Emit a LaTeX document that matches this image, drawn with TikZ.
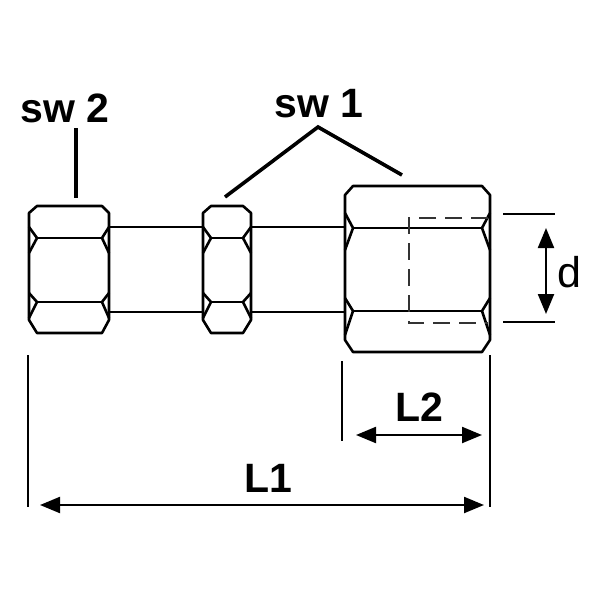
\documentclass[tikz,border=0pt]{standalone}
\usepackage{fontspec}
\setmainfont{Liberation Sans}
\usetikzlibrary{positioning,arrows.meta}
\tikzset{
    outline/.style={line width=2.6pt, black, line join=round},
    thin line/.style={line width=2pt, black},
    hidden line/.style={line width=1.7pt, black!80, dash pattern=on 17pt off 9pt},
    leader/.style={line width=3.6pt, black},
    dim arrow/.style={line width=2.2pt, black, {Triangle[length=20pt,width=16pt]}-{Triangle[length=20pt,width=16pt]}},
    big label/.style={font=\fontsize{41}{41}\selectfont\bfseries, inner sep=0pt},
    small label/.style={font=\fontsize{43}{43}\selectfont, inner sep=0pt}
}
\begin{document}
\begin{tikzpicture}[x=1pt, y=-1pt]
    \useasboundingbox (0,0) rectangle (600,600);

    % Left nut
    \draw[outline] (29,213) -- (29,320) -- (37,333) -- (102,333) -- (109,320) -- (109,213) -- (102,206) -- (37,206) -- cycle;
    \draw[outline] (37,238) -- (102,238);
    \draw[outline] (37,302) -- (102,302);
    \foreach \ya/\yb/\yc in {227/238/253, 293/302/318} {
        \draw[outline] (29,\ya) -- (37,\yb) -- (29,\yc);
        \draw[outline] (109,\ya) -- (102,\yb) -- (109,\yc);
    }

    % Middle nut
    \draw[outline] (203,213) -- (203,320) -- (211,333) -- (243,333) -- (251,320) -- (251,213) -- (243,206) -- (211,206) -- cycle;
    \draw[outline] (211,238) -- (243,238);
    \draw[outline] (211,302) -- (243,302);
    \foreach \ya/\yb/\yc in {227/238/253, 293/302/318} {
        \draw[outline] (203,\ya) -- (211,\yb) -- (203,\yc);
        \draw[outline] (251,\ya) -- (243,\yb) -- (251,\yc);
    }

    % Right nut
    \draw[outline] (345,195) -- (345,340) -- (353,352) -- (482,352) -- (490,340) -- (490,195) -- (482,186) -- (353,186) -- cycle;
    \draw[outline] (353,228) -- (482,228);
    \draw[outline] (353,311) -- (482,311);
    \foreach \ya/\yb/\yc in {213/228/250, 298/311/335} {
        \draw[outline] (345,\ya) -- (353,\yb) -- (345,\yc);
        \draw[outline] (490,\ya) -- (482,\yb) -- (490,\yc);
    }

    % Bore
    \draw[hidden line] (488,218) -- (409,218) -- (409,323) -- (488,323);

    % Pipes
    \foreach \y in {227,312} {
        \draw[thin line] (109,\y) -- (203,\y);
        \draw[thin line] (251,\y) -- (345,\y);
    }

    % Extension lines
    \coordinate (d top a) at (503,214);
    \coordinate (d top b) at (555,214);
    \coordinate (d bottom a) at (503,322);
    \coordinate (d bottom b) at (555,322);
    \coordinate (left a) at (28,355);
    \coordinate (left b) at (28,507);
    \coordinate (right a) at (490,355);
    \coordinate (right b) at (490,507);
    \coordinate (mid a) at (342,361);
    \coordinate (mid b) at (342,441);
    \draw[thin line] (d top a) -- (d top b);
    \draw[thin line] (d bottom a) -- (d bottom b);
    \draw[thin line] (left a) -- (left b);
    \draw[thin line] (right a) -- (right b);
    \draw[thin line] (mid a) -- (mid b);

    % Dimension arrows
    \coordinate (d a) at (546,228);
    \coordinate (d b) at (546,314);
    \coordinate (l2 a) at (356,435);
    \coordinate (l2 b) at (482,435);
    \coordinate (l1 a) at (40,505);
    \coordinate (l1 b) at (484,505);
    \draw[dim arrow] (d a) -- (d b);
    \draw[dim arrow] (l2 a) -- (l2 b);
    \draw[dim arrow] (l1 a) -- (l1 b);

    % Labels
    \node[small label] (d label) at (569,272) {d};
    \node[big label] (l2 label) at (419,407) {L2};
    \node[big label] (l1 label) at (268,478) {L1};
    \node[big label] (sw2 label) at (65,108) {sw 2};
    \node[big label] (sw1 label) at (319,104) {sw 1};

    % Leaders
    \coordinate (sw2 top) at (76,128);
    \coordinate (sw2 end) at (76,198);
    \coordinate (sw1 top) at (318,127);
    \coordinate (sw1 left) at (225,197);
    \coordinate (sw1 right) at (402,175);
    \draw[leader] (sw2 top) -- (sw2 end);
    \draw[leader] (sw1 left) -- (sw1 top) -- (sw1 right);
\end{tikzpicture}
\end{document}
